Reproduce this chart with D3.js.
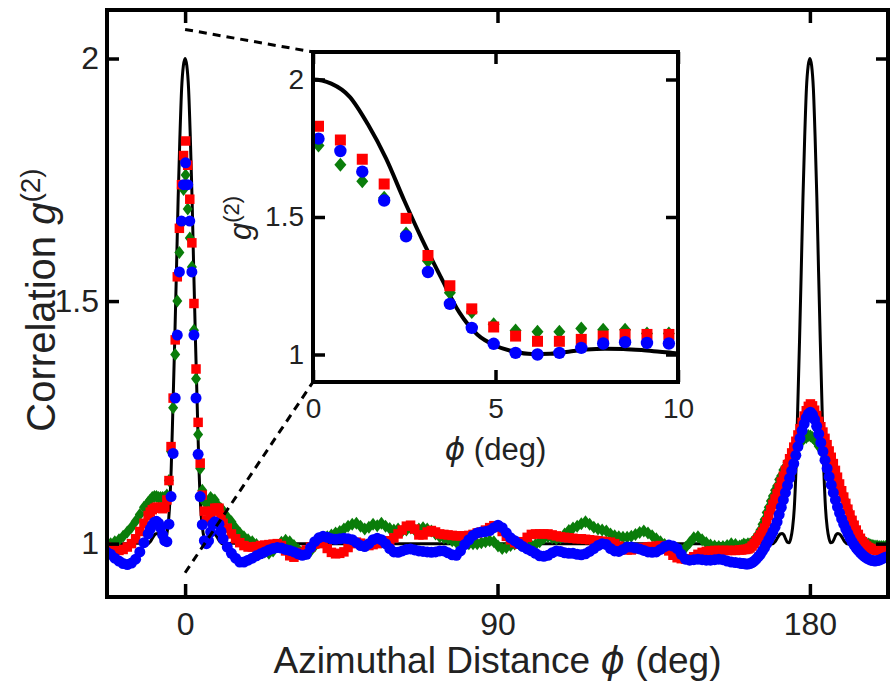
<!DOCTYPE html>
<html>
<head>
<meta charset="utf-8">
<script src="https://cdn.jsdelivr.net/npm/d3@7"></script>
<style>
  html, body { margin: 0; padding: 0; background: #fff; }
  svg { display: block; }
  text { font-family: "Liberation Sans", Arial, sans-serif; fill: #222; }
</style>
</head>
<body>
<svg id="chart" width="895" height="686"></svg>
<script>
// ---------------- data ----------------
const xTicks = [0, 90, 180];
const yTicks = [1, 1.5, 2];
const insetXTicks = [0, 5, 10];
const insetYTicks = [1, 1.5, 2];

// model g2 profile versus offset from a peak centre (deg); symmetric about each peak
const modelOffset = [0, 0.5, 1, 1.5, 2, 2.5, 3, 3.5, 4, 4.5, 5, 5.5, 6, 6.5, 7, 7.5, 8, 8.5, 9, 9.5, 10, 11, 12, 13, 14, 16, 22.5];
const modelG = [2.000, 1.985, 1.938, 1.838, 1.713, 1.560, 1.415, 1.282, 1.155, 1.073, 1.032, 1.011, 1.002, 1.003, 1.010, 1.018, 1.021, 1.020, 1.016, 1.010, 1.004, 0.999, 0.999, 1.001, 1.001, 1.000, 1.000];
const modelPeaks = [0, 180];

// measured g2, sampled on four grids
const leftStart = -22.65, leftStep = 1.2;    // 11 samples
const peakStart = -10.05, peakStep = 0.6;    // 35 samples
const restStart = 10.95, restStep = 1.2;     // 125 samples
const backStart = 160.35, backStep = 0.6;    // 71 samples

const greenLeft = [0.998, 1.000, 1.004, 1.008, 1.015, 1.024, 1.034, 1.046, 1.060, 1.075, 1.085];
const redLeft   = [0.993, 0.990, 0.987, 0.986, 0.988, 0.993, 1.000, 1.010, 1.025, 1.042, 1.058];
const blueLeft  = [0.983, 0.978, 0.970, 0.964, 0.959, 0.957, 0.960, 0.968, 0.983, 1.002, 1.020];

const greenPeak = [1.090, 1.095, 1.097, 1.097, 1.095, 1.095, 1.095, 1.095, 1.100, 1.130,
                   1.190, 1.280, 1.390, 1.500, 1.600, 1.660, 1.730, 1.760, 1.690, 1.630,
                   1.570, 1.440, 1.340, 1.225, 1.155, 1.110, 1.087, 1.083, 1.083, 1.095,
                   1.090, 1.090, 1.076, 1.076, 1.072];
const redPeak   = [1.065, 1.070, 1.073, 1.075, 1.075, 1.074, 1.072, 1.075, 1.090, 1.130,
                   1.200, 1.300, 1.420, 1.550, 1.650, 1.740, 1.800, 1.830, 1.780, 1.710,
                   1.620, 1.495, 1.360, 1.250, 1.166, 1.100, 1.067, 1.048, 1.048, 1.055,
                   1.067, 1.073, 1.073, 1.073, 1.058];
const bluePeak  = [1.030, 1.038, 1.044, 1.046, 1.042, 1.032, 1.018, 1.006, 1.004, 1.040,
                   1.097, 1.186, 1.300, 1.430, 1.560, 1.665, 1.740, 1.785, 1.740, 1.665,
                   1.560, 1.430, 1.300, 1.184, 1.097, 1.039, 1.006, 1.000, 1.006, 1.024,
                   1.040, 1.045, 1.042, 1.040, 1.025];

const greenRest = [
  1.068, 1.055, 1.045, 1.032, 1.022, 1.014, 1.008, 1.004, 0.998, 0.990,
  0.983, 0.980, 0.985, 0.995, 1.003, 1.007, 1.004, 0.996, 0.988, 0.982,
  0.980, 0.985, 0.995, 1.004, 1.010, 1.014, 1.018, 1.022, 1.025, 1.030,
  1.036, 1.040, 1.042, 1.036, 1.030, 1.034, 1.040, 1.037, 1.042, 1.036,
  1.031, 1.028, 1.030, 1.026, 1.028, 1.032, 1.028, 1.030, 1.033, 1.030,
  1.026, 1.020, 1.014, 1.012, 1.010, 1.006, 1.003, 1.002, 1.001, 1.000,
  1.000, 1.000, 1.002, 1.004, 1.006, 1.004, 0.995, 0.990, 0.992, 0.996,
  0.999, 1.000, 1.000, 0.998, 0.996, 0.998, 1.004, 1.011, 1.014, 1.012,
  1.010, 1.012, 1.020, 1.027, 1.032, 1.036, 1.041, 1.045, 1.040, 1.034,
  1.030, 1.028, 1.026, 1.020, 1.016, 1.014, 1.013, 1.013, 1.015, 1.019,
  1.023, 1.026, 1.022, 1.016, 1.010, 1.004, 0.998, 0.993, 0.990, 0.988,
  0.986, 0.992, 1.002, 1.012, 1.014, 1.008, 1.002, 0.997, 0.995, 0.994,
  0.994, 0.996, 1.000, 0.998, 0.995
];
const redRest = [
  1.042, 1.032, 1.020, 1.010, 1.002, 0.996, 0.993, 0.993, 0.994, 0.996,
  0.997, 0.998, 0.999, 1.000, 0.996, 0.985, 0.975, 0.972, 0.976, 0.982,
  0.987, 0.993, 0.999, 1.003, 1.000, 0.990, 0.982, 0.979, 0.980, 0.983,
  0.992, 1.000, 1.003, 1.001, 0.998, 0.996, 0.998, 1.000, 1.002, 1.003,
  1.006, 1.012, 1.020, 1.028, 1.036, 1.038, 1.030, 1.018, 1.018, 1.024,
  1.027, 1.024, 1.020, 1.019, 1.018, 1.017, 1.016, 1.016, 1.016, 1.017,
  1.019, 1.022, 1.024, 1.028, 1.033, 1.037, 1.034, 1.025, 1.015, 1.008,
  1.002, 0.999, 1.004, 1.013, 1.019, 1.020, 1.020, 1.020, 1.020, 1.018,
  1.016, 1.014, 1.013, 1.012, 1.011, 1.010, 1.010, 1.009, 1.008, 1.007,
  1.006, 1.005, 1.004, 1.003, 1.000, 0.995, 0.990, 0.987, 0.987, 0.989,
  0.991, 0.992, 0.993, 0.994, 0.995, 0.996, 0.994, 0.985, 0.976, 0.971,
  0.969, 0.968, 0.969, 0.973, 0.978, 0.982, 0.984, 0.985, 0.986, 0.986,
  0.986, 0.986, 0.986, 0.986, 0.987
];
const blueRest = [
  1.010, 0.993, 0.980, 0.970, 0.962, 0.962, 0.966, 0.970, 0.975, 0.979,
  0.983, 0.987, 0.990, 0.992, 0.991, 0.988, 0.986, 0.983, 0.979, 0.976,
  0.978, 0.992, 1.004, 1.012, 1.015, 1.013, 1.010, 1.009, 1.010, 1.011,
  1.010, 1.008, 1.002, 0.996, 0.994, 1.000, 1.008, 1.011, 1.008, 1.000,
  0.990, 0.983, 0.982, 0.985, 0.988, 0.989, 0.987, 0.985, 0.984, 0.983,
  0.982, 0.983, 0.985, 0.985, 0.981, 0.977, 0.976, 0.985, 0.998, 1.008,
  1.017, 1.022, 1.024, 1.025, 1.027, 1.033, 1.038, 1.033, 1.022, 1.012,
  1.006, 1.000, 0.994, 0.989, 0.985, 0.980, 0.975, 0.974, 0.976, 0.981,
  0.985, 0.984, 0.981, 0.980, 0.980, 0.978, 0.977, 0.979, 0.984, 0.990,
  0.996, 1.000, 0.998, 0.990, 0.985, 0.984, 0.988, 0.993, 0.993, 0.991,
  0.989, 0.986, 0.983, 0.982, 0.983, 0.988, 0.994, 0.997, 0.995, 0.990,
  0.978, 0.968, 0.966, 0.967, 0.968, 0.967, 0.966, 0.966, 0.967, 0.968,
  0.967, 0.964, 0.962, 0.961, 0.960
];

// back-to-back peak (160.35 .. 202.35 deg)
const greenBack = [
  0.996, 0.999, 0.997, 1.000, 0.999, 1.003, 1.008, 1.012, 1.020, 1.028,
  1.040, 1.050, 1.064, 1.075, 1.088, 1.098, 1.110, 1.119, 1.132, 1.140,
  1.152, 1.158, 1.168, 1.174, 1.184, 1.189, 1.198, 1.202, 1.210, 1.212,
  1.218, 1.219, 1.223, 1.222, 1.219, 1.214, 1.210, 1.201, 1.197, 1.187,
  1.182, 1.171, 1.165, 1.154, 1.147, 1.135, 1.128, 1.116, 1.106, 1.093,
  1.080, 1.070, 1.057, 1.047, 1.036, 1.028, 1.019, 1.013, 1.007, 1.004,
  1.000, 0.999, 0.997, 0.996, 0.995, 0.995, 0.994, 0.994, 0.994, 0.994,
  0.993
];
const redBack = [
  0.987, 0.988, 0.988, 0.989, 0.991, 0.995, 1.000, 1.006, 1.012, 1.018,
  1.024, 1.032, 1.045, 1.058, 1.070, 1.081, 1.092, 1.103, 1.115, 1.127,
  1.139, 1.151, 1.163, 1.175, 1.187, 1.199, 1.211, 1.224, 1.237, 1.250,
  1.263, 1.274, 1.283, 1.288, 1.284, 1.275, 1.264, 1.252, 1.241, 1.230,
  1.217, 1.204, 1.191, 1.178, 1.165, 1.151, 1.137, 1.123, 1.109, 1.096,
  1.083, 1.071, 1.059, 1.048, 1.038, 1.028, 1.019, 1.011, 1.004, 0.999,
  0.995, 0.992, 0.990, 0.988, 0.987, 0.986, 0.986, 0.986, 0.986, 0.987,
  0.987
];
const blueBack = [
  0.959, 0.959, 0.958, 0.958, 0.959, 0.961, 0.964, 0.968, 0.973, 0.978,
  0.985, 0.992, 1.000, 1.008, 1.016, 1.025, 1.034, 1.045, 1.060, 1.075,
  1.090, 1.105, 1.120, 1.135, 1.150, 1.165, 1.182, 1.200, 1.217, 1.233,
  1.247, 1.259, 1.267, 1.271, 1.266, 1.256, 1.242, 1.226, 1.208, 1.190,
  1.172, 1.155, 1.138, 1.121, 1.105, 1.090, 1.076, 1.063, 1.051, 1.040,
  1.030, 1.021, 1.012, 1.004, 0.997, 0.991, 0.986, 0.981, 0.977, 0.973,
  0.970, 0.968, 0.966, 0.965, 0.964, 0.965, 0.966, 0.968, 0.970, 0.972,
  0.973
];

// main-axis anchors of the zoom connector at phi = 0
const connectorG = [2.06, 0.94];

// ---------------- layout ----------------
const svg = d3.select("#chart");
const M = { left: 107, right: 888, top: 10, bottom: 597 };
const I = { left: 313, right: 678, top: 52, bottom: 382 };
const TEXT = "#222";
const PHI_FONT = "'DejaVu Sans', sans-serif";

const x = d3.scaleLinear().domain([-22.5, 202.5]).range([M.left, M.right]);
const y = d3.scaleLinear().domain([0.89, 2.1]).range([M.bottom, M.top]);
const xi = d3.scaleLinear().domain([0, 10]).range([I.left, I.right]);
const yi = d3.scaleLinear().domain([0.9, 2.1]).range([I.bottom, I.top]);

function buildSeries(segments) {
  const pts = [];
  segments.forEach(([start, step, vals]) => {
    vals.forEach((g, i) => pts.push({ phi: +(start + i * step).toFixed(2), g }));
  });
  return pts;
}
const green = buildSeries([[leftStart, leftStep, greenLeft], [peakStart, peakStep, greenPeak],
                           [restStart, restStep, greenRest], [backStart, backStep, greenBack]]);
const red = buildSeries([[leftStart, leftStep, redLeft], [peakStart, peakStep, redPeak],
                         [restStart, restStep, redRest], [backStart, backStep, redBack]]);
const blue = buildSeries([[leftStart, leftStep, blueLeft], [peakStart, peakStep, bluePeak],
                          [restStart, restStep, blueRest], [backStart, backStep, blueBack]]);

// model curve through both peaks
const modelPts = [];
modelPeaks.forEach(p => {
  modelOffset.forEach((o, i) => {
    modelPts.push({ phi: p - o, g: modelG[i] });
    if (o > 0) modelPts.push({ phi: p + o, g: modelG[i] });
  });
});
modelPts.sort((a, b) => a.phi - b.phi);
const modelMain = modelPts.filter((d, i, a) => i === 0 || d.phi !== a[i - 1].phi);

// marker shapes
const diamondPath = (w, h) => `M0,${-h}L${w},0L0,${h}L${-w},0Z`;
const squarePath = s => `M${-s / 2},${-s / 2}h${s}v${s}h${-s}Z`;
const circlePath = r => d3.symbol().type(d3.symbolCircle).size(Math.PI * r * r)();

const COLORS = { green: "#0a7d0a", red: "#ff0000", blue: "#0000ff" };

function drawMarkers(g, data, xs, ys, path, color, cls) {
  g.append("g").attr("class", cls)
    .selectAll("path").data(data).join("path")
    .attr("d", path)
    .attr("fill", color)
    .attr("transform", d => `translate(${xs(d.phi)},${ys(d.g)})`);
}

// ---------------- main panel ----------------
const defs = svg.append("defs");
defs.append("clipPath").attr("id", "clipMain").append("rect")
  .attr("x", M.left).attr("y", M.top).attr("width", M.right - M.left).attr("height", M.bottom - M.top);
defs.append("clipPath").attr("id", "clipInset").append("rect")
  .attr("x", I.left).attr("y", I.top).attr("width", I.right - I.left).attr("height", I.bottom - I.top);

const mainPlot = svg.append("g").attr("clip-path", "url(#clipMain)");

mainPlot.append("path")
  .datum(modelMain)
  .attr("fill", "none").attr("stroke", "#000").attr("stroke-width", 3)
  .attr("d", d3.line().x(d => x(d.phi)).y(d => y(d.g)).curve(d3.curveMonotoneX));

drawMarkers(mainPlot, green, x, y, diamondPath(5, 6.5), COLORS.green, "green");
drawMarkers(mainPlot, red, x, y, squarePath(9.5), COLORS.red, "red");
drawMarkers(mainPlot, blue, x, y, circlePath(5.5), COLORS.blue, "blue");

// main axes
function styleAxis(g, size) {
  g.select(".domain").remove();
  g.selectAll(".tick line").attr("stroke", "#000").attr("stroke-width", 3.5);
  g.selectAll(".tick text").attr("fill", TEXT)
    .attr("font-family", "'Liberation Sans', Arial, sans-serif").attr("font-size", size);
}
svg.append("g").attr("transform", `translate(0,${M.bottom})`)
  .call(d3.axisBottom(x).tickValues(xTicks).tickSize(-13).tickPadding(15).tickFormat(d3.format("d")))
  .call(g => styleAxis(g, 32));
svg.append("g").attr("transform", `translate(0,${M.top})`)
  .call(d3.axisTop(x).tickValues(xTicks).tickSize(-13).tickFormat(""))
  .call(g => styleAxis(g, 32));
svg.append("g").attr("transform", `translate(${M.left},0)`)
  .call(d3.axisLeft(y).tickValues(yTicks).tickSize(-12).tickPadding(8).tickFormat(d => d3.format("")(d)))
  .call(g => styleAxis(g, 32));
svg.append("g").attr("transform", `translate(${M.right},0)`)
  .call(d3.axisRight(y).tickValues(yTicks).tickSize(-12).tickFormat(""))
  .call(g => styleAxis(g, 32));

svg.append("rect")
  .attr("x", M.left).attr("y", M.top).attr("width", M.right - M.left).attr("height", M.bottom - M.top)
  .attr("fill", "none").attr("stroke", "#000").attr("stroke-width", 4);

// axis titles
const xTitle = svg.append("text")
  .attr("x", (M.left + M.right) / 2).attr("y", 673)
  .attr("text-anchor", "middle").attr("font-size", 37);
xTitle.append("tspan").text("Azimuthal Distance ");
xTitle.append("tspan").attr("font-style", "italic").attr("font-family", PHI_FONT)
  .attr("font-weight", 200).text("ϕ");
xTitle.append("tspan").text(" (deg)");

const yTitle = svg.append("text")
  .attr("transform", `translate(55,300) rotate(-90)`)
  .attr("text-anchor", "middle").attr("font-size", 40);
yTitle.append("tspan").text("Correlation ");
yTitle.append("tspan").attr("font-style", "italic").text("g");
yTitle.append("tspan").attr("font-size", 28).attr("dy", "-0.55em").text("(2)");

// zoom connectors
svg.selectAll("line.connector")
  .data([{ g: connectorG[0], cx: I.left, cy: I.top }, { g: connectorG[1], cx: I.left, cy: I.bottom }])
  .join("line").attr("class", "connector")
  .attr("x1", x(0)).attr("y1", d => y(d.g))
  .attr("x2", d => d.cx).attr("y2", d => d.cy)
  .attr("stroke", "#000").attr("stroke-width", 3).attr("stroke-dasharray", "8,6");

// ---------------- inset ----------------
svg.append("rect")
  .attr("x", I.left).attr("y", I.top).attr("width", I.right - I.left).attr("height", I.bottom - I.top)
  .attr("fill", "#fff");

const insetPlot = svg.append("g").attr("clip-path", "url(#clipInset)");
const modelInset = modelMain.filter(d => d.phi >= -1 && d.phi <= 12);
insetPlot.append("path")
  .datum(modelInset)
  .attr("fill", "none").attr("stroke", "#000").attr("stroke-width", 4)
  .attr("d", d3.line().x(d => xi(d.phi)).y(d => yi(d.g)).curve(d3.curveMonotoneX));

const inRange = d => d.phi >= 0 && d.phi <= 10;
drawMarkers(insetPlot, green.filter(inRange), xi, yi, diamondPath(6, 7), COLORS.green, "green");
drawMarkers(insetPlot, red.filter(inRange), xi, yi, squarePath(11), COLORS.red, "red");
drawMarkers(insetPlot, blue.filter(inRange), xi, yi, circlePath(6.2), COLORS.blue, "blue");

svg.append("g").attr("transform", `translate(0,${I.bottom})`)
  .call(d3.axisBottom(xi).tickValues(insetXTicks).tickSize(-12).tickPadding(16).tickFormat(d3.format("d")))
  .call(g => styleAxis(g, 28));
svg.append("g").attr("transform", `translate(0,${I.top})`)
  .call(d3.axisTop(xi).tickValues(insetXTicks).tickSize(-12).tickFormat(""))
  .call(g => styleAxis(g, 28));
svg.append("g").attr("transform", `translate(${I.left},0)`)
  .call(d3.axisLeft(yi).tickValues(insetYTicks).tickSize(-12).tickPadding(9).tickFormat(d => d3.format("")(d)))
  .call(g => styleAxis(g, 28));
svg.append("g").attr("transform", `translate(${I.right},0)`)
  .call(d3.axisRight(yi).tickValues(insetYTicks).tickSize(-12).tickFormat(""))
  .call(g => styleAxis(g, 28));

svg.append("rect")
  .attr("x", I.left).attr("y", I.top).attr("width", I.right - I.left).attr("height", I.bottom - I.top)
  .attr("fill", "none").attr("stroke", "#000").attr("stroke-width", 4);

const xiTitle = svg.append("text")
  .attr("x", (I.left + I.right) / 2).attr("y", 460)
  .attr("text-anchor", "middle").attr("font-size", 31);
xiTitle.append("tspan").attr("font-style", "italic").attr("font-family", PHI_FONT)
  .attr("font-weight", 200).text("ϕ");
xiTitle.append("tspan").text(" (deg)");

const yiTitle = svg.append("text")
  .attr("transform", `translate(251,218) rotate(-90)`)
  .attr("text-anchor", "middle").attr("font-size", 31);
yiTitle.append("tspan").attr("font-style", "italic").text("g");
yiTitle.append("tspan").attr("font-size", 22).attr("dy", "-0.55em").text("(2)");
</script>
</body>
</html>
